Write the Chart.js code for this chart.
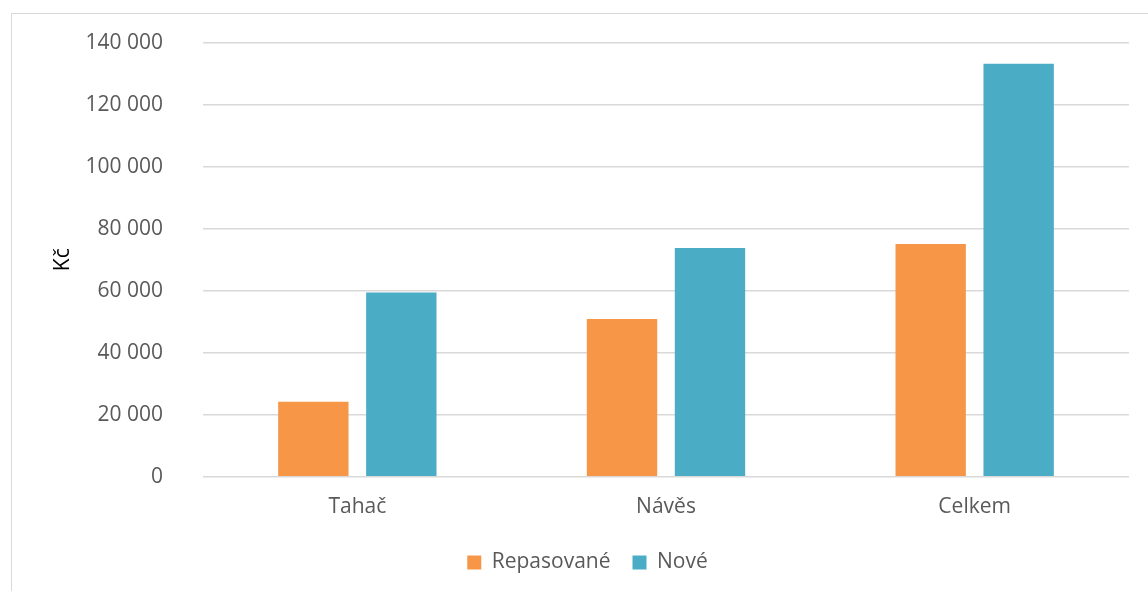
<!DOCTYPE html>
<html>
<head>
<meta charset="utf-8">
<script src="https://cdn.jsdelivr.net/npm/chart.js@4"></script>
<style>
  html, body { margin: 0; padding: 0; background: #fff; overflow: hidden; }
  #box {
    position: absolute; left: 11px; top: 13px;
    width: 1156px; height: 640px;
    border: 1px solid #D9D9D9; box-sizing: border-box;
  }
  #wrap {
    position: absolute; left: 0; top: -24px;
    width: 1154px; height: 639px;
  }
</style>
</head>
<body>
<div id="box"><div id="wrap"><canvas id="costChart"></canvas></div></div>
<script>
const categories = ['Tahač', 'Návěs', 'Celkem'];
const repasovane = [24200, 50900, 75100];
const nove = [59400, 73800, 133200];
const yTicks = [0, 20000, 40000, 60000, 80000, 100000, 120000, 140000];

const textColor = '#595959';
const font = { family: "'Open Sans', 'Noto Sans', sans-serif", size: 21 };

function formatKc(v) {
    return String(v).replace(/\B(?=(\d{3})+(?!\d))/g, ' ');
}

const ctx = document.getElementById('costChart');
const chart = new Chart(ctx, {
    type: 'bar',
    data: {
        labels: categories,
        datasets: [{
            label: 'Repasované',
            data: repasovane,
            backgroundColor: '#F79646',
        }, {
            label: 'Nové',
            data: nove,
            backgroundColor: '#4BACC6',
        }]
    },
    options: {
        responsive: true,
        maintainAspectRatio: false,
        animation: false,
        categoryPercentage: 0.57,
        barPercentage: 0.8,
        layout: { padding: { left: 34, right: 37, top: 0, bottom: 46 } },
        plugins: {
            tooltip: { enabled: false },
            legend: {
                position: 'bottom',
                labels: {
                    color: textColor,
                    font: font,
                    boxWidth: 14,
                    boxHeight: 14,
                    padding: 22,
                }
            }
        },
        scales: {
            x: {
                grid: { display: false },
                border: { display: false },
                ticks: { color: textColor, font: font, padding: 10 }
            },
            y: {
                min: 0,
                max: 140000,
                afterBuildTicks: scale => {
                    scale.ticks = yTicks.map(v => ({ value: v }));
                },
                afterFit: scale => { scale.width = 157; },
                grid: { color: '#D9D9D9', lineWidth: 1.5, drawTicks: false },
                border: { display: false },
                ticks: {
                    color: textColor,
                    font: font,
                    padding: 40,
                    callback: v => formatKc(v)
                },
                title: {
                    display: true,
                    text: 'Kč',
                    color: '#000',
                    font: font,
                    padding: 4
                }
            }
        }
    }
});
</script>
</body>
</html>
